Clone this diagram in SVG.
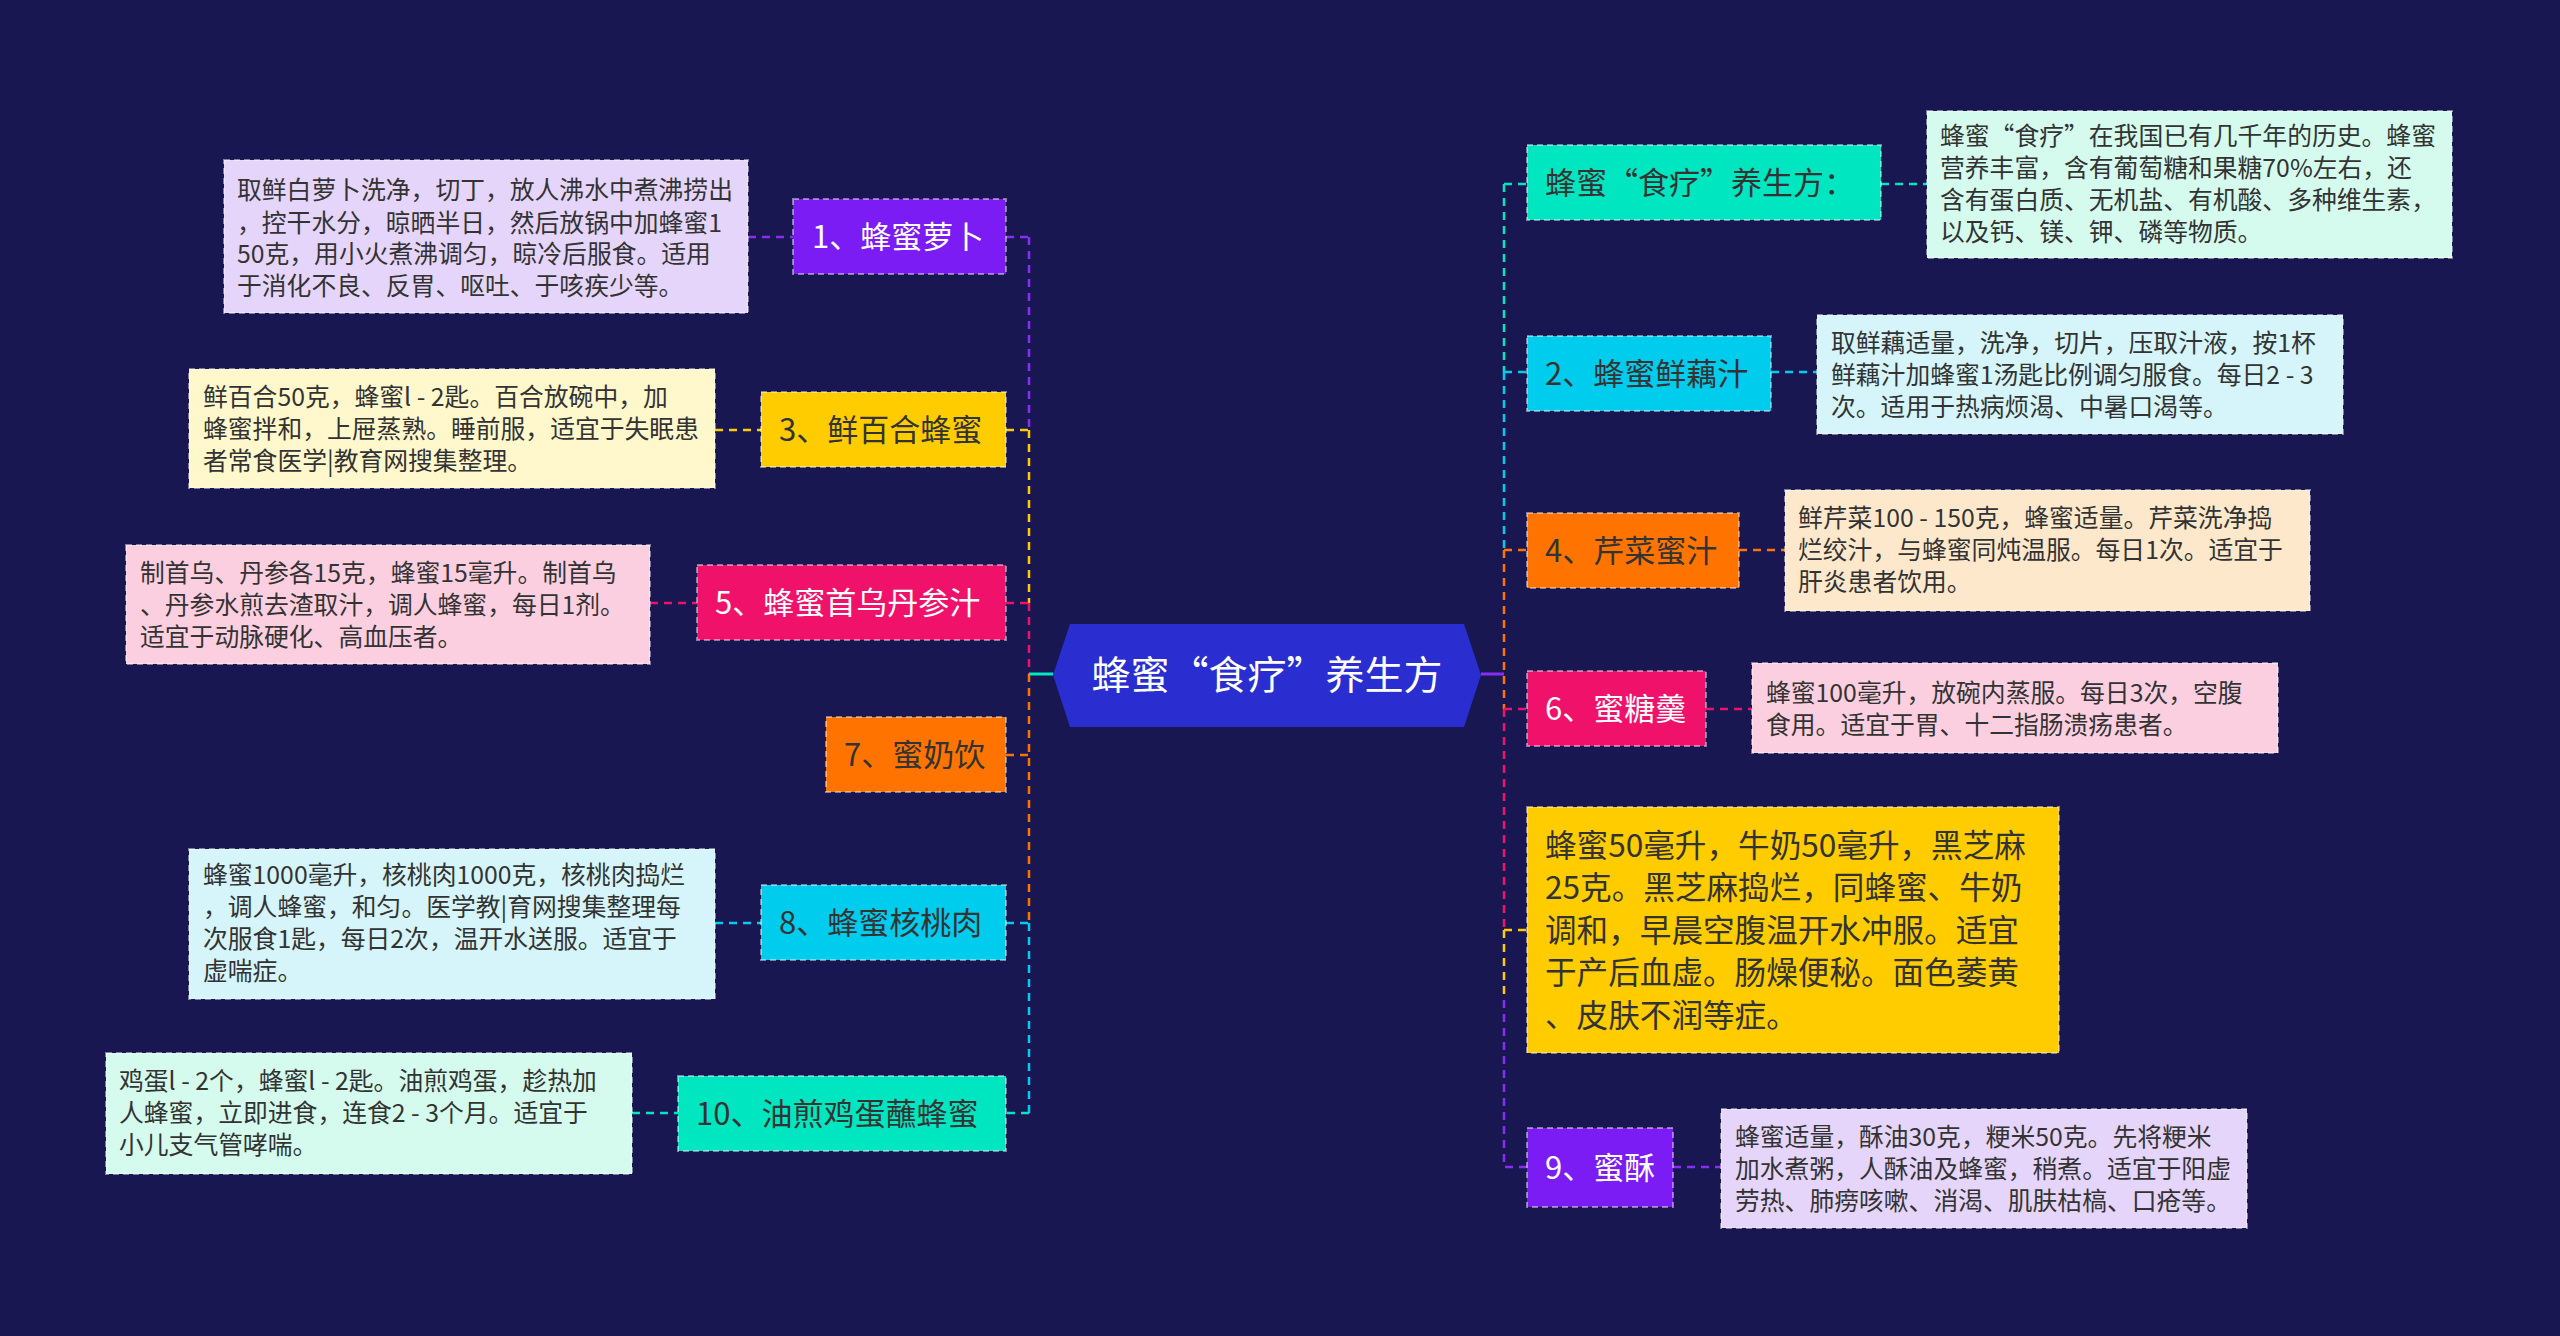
<svg xmlns="http://www.w3.org/2000/svg" width="2560" height="1336" viewBox="0 0 2560 1336">
<style>
text{font-family:"Noto Sans CJK SC","Liberation Sans",sans-serif}
.n{font-size:31px}
.d{font-size:24.8px;fill:#333}
.w{fill:#fff}.k{fill:#333}
.c{fill:none;stroke-width:2.5;stroke-dasharray:8 6}
.b{stroke:#fff;stroke-opacity:.45;stroke-width:2;stroke-dasharray:6 4}
</style>
<rect width="2560" height="1336" fill="#181752"/>
<g id="connectors">
<path class="c" stroke="#8a2cf5" d="M1029 237V430M1006 237H1029M748 237H793"/>
<path class="c" stroke="#ffcc00" d="M1029 430V603M1006 430H1029M715 430H761"/>
<path class="c" stroke="#f0116b" d="M1029 603V674M1006 603H1029M650 603H697"/>
<path class="c" stroke="#ff7300" d="M1029 674V923M1006 755H1029"/>
<path class="c" stroke="#00ccee" d="M1029 923V1113M1006 923H1029M715 923H761"/>
<path class="c" stroke="#00e6c0" d="M1029 1113H1006M632 1113H678"/>
<path stroke="#00e6c0" stroke-width="3" fill="none" d="M1053 674H1029"/>
<path stroke="#8a2cf5" stroke-width="3" fill="none" d="M1481 674H1504"/>
<path class="c" stroke="#00e6c0" d="M1504 184V372M1504 184H1527M1881 184H1927"/>
<path class="c" stroke="#00ccee" d="M1504 372V550M1504 372H1527M1771 372H1817"/>
<path class="c" stroke="#ff7300" d="M1504 550V709M1504 550H1527M1739 550H1785"/>
<path class="c" stroke="#f0116b" d="M1504 709V930M1504 709H1527M1706 709H1752"/>
<path class="c" stroke="#ffcc00" d="M1504 930V1000M1504 930H1527"/>
<path class="c" stroke="#8a2cf5" d="M1504 1000V1167H1527M1673 1167H1721"/>
</g>
<g id="center">
<path d="M1070 624H1464L1481 675L1464 727H1070L1053 675Z" fill="#2a2ed0"/>
<text x="1267" y="689" font-size="39" fill="#fff" text-anchor="middle">蜂蜜“食疗”养生方</text>
</g>
<g id="n1"><rect class="b" x="793" y="199" width="213" height="75" fill="#7b1cf5"/><text class="n w" x="812" y="248">1、蜂蜜萝卜</text></g>
<g id="d1"><rect class="b" x="224" y="160" width="524" height="153" fill="#e6d5fb"/>
<text class="d"><tspan x="237" y="199">取鲜白萝卜洗净，切丁，放人沸水中煮沸捞出</tspan><tspan x="237" y="232">，控干水分，晾晒半日，然后放锅中加蜂蜜1</tspan><tspan x="237" y="263">50克，用小火煮沸调匀，晾冷后服食。适用</tspan><tspan x="237" y="295">于消化不良、反胃、呕吐、于咳疾少等。</tspan></text></g>
<g id="n3"><rect class="b" x="761" y="392" width="245" height="75" fill="#ffcc00"/><text class="n k" x="779" y="441">3、鲜百合蜂蜜</text></g>
<g id="d3"><rect class="b" x="189" y="369" width="526" height="119" fill="#fff8cc"/>
<text class="d"><tspan x="203" y="406">鲜百合50克，蜂蜜l - 2匙。百合放碗中，加</tspan><tspan x="203" y="438">蜂蜜拌和，上屉蒸熟。睡前服，适宜于失眠患</tspan><tspan x="203" y="470">者常食医学|教育网搜集整理。</tspan></text></g>
<g id="n5"><rect class="b" x="697" y="565" width="309" height="75" fill="#f0116b"/><text class="n w" x="715" y="614">5、蜂蜜首乌丹参汁</text></g>
<g id="d5"><rect class="b" x="126" y="545" width="524" height="119" fill="#fccfe0"/>
<text class="d"><tspan x="140" y="582">制首乌、丹参各15克，蜂蜜15毫升。制首乌</tspan><tspan x="140" y="614">、丹参水煎去渣取汁，调人蜂蜜，每日1剂。</tspan><tspan x="140" y="646">适宜于动脉硬化、高血压者。</tspan></text></g>
<g id="n7"><rect class="b" x="826" y="717" width="180" height="75" fill="#ff7300"/><text class="n k" x="844" y="766">7、蜜奶饮</text></g>
<g id="n8"><rect class="b" x="761" y="885" width="245" height="75" fill="#00ccee"/><text class="n k" x="779" y="934">8、蜂蜜核桃肉</text></g>
<g id="d8"><rect class="b" x="189" y="849" width="526" height="150" fill="#d5f5fb"/>
<text class="d"><tspan x="203" y="884">蜂蜜1000毫升，核桃肉1000克，核桃肉捣烂</tspan><tspan x="203" y="916">，调人蜂蜜，和匀。医学教|育网搜集整理每</tspan><tspan x="203" y="948">次服食1匙，每日2次，温开水送服。适宜于</tspan><tspan x="203" y="980">虚喘症。</tspan></text></g>
<g id="n10"><rect class="b" x="678" y="1076" width="328" height="75" fill="#00e6c0"/><text class="n k" x="696" y="1125">10、油煎鸡蛋蘸蜂蜜</text></g>
<g id="d10"><rect class="b" x="106" y="1053" width="526" height="121" fill="#d5fbee"/>
<text class="d"><tspan x="119" y="1090">鸡蛋l - 2个，蜂蜜l - 2匙。油煎鸡蛋，趁热加</tspan><tspan x="119" y="1122">人蜂蜜，立即进食，连食2 - 3个月。适宜于</tspan><tspan x="119" y="1154">小儿支气管哮喘。</tspan></text></g>
<g id="r1"><rect class="b" x="1527" y="145" width="354" height="75" fill="#00e6c0"/><text class="n k" x="1545" y="194">蜂蜜“食疗”养生方：</text></g>
<g id="dr1"><rect class="b" x="1927" y="111" width="525" height="147" fill="#d5fbee"/>
<text class="d"><tspan x="1940" y="145">蜂蜜“食疗”在我国已有几千年的历史。蜂蜜</tspan><tspan x="1940" y="177">营养丰富，含有葡萄糖和果糖70%左右，还</tspan><tspan x="1940" y="209">含有蛋白质、无机盐、有机酸、多种维生素，</tspan><tspan x="1940" y="241">以及钙、镁、钾、磷等物质。</tspan></text></g>
<g id="r2"><rect class="b" x="1527" y="336" width="244" height="75" fill="#00ccee"/><text class="n k" x="1545" y="385">2、蜂蜜鲜藕汁</text></g>
<g id="dr2"><rect class="b" x="1817" y="315" width="526" height="119" fill="#d5f5fb"/>
<text class="d"><tspan x="1831" y="352">取鲜藕适量，洗净，切片，压取汁液，按1杯</tspan><tspan x="1831" y="384">鲜藕汁加蜂蜜1汤匙比例调匀服食。每日2 - 3</tspan><tspan x="1831" y="416">次。适用于热病烦渴、中暑口渴等。</tspan></text></g>
<g id="r4"><rect class="b" x="1527" y="513" width="212" height="75" fill="#ff7300"/><text class="n k" x="1545" y="562">4、芹菜蜜汁</text></g>
<g id="dr4"><rect class="b" x="1785" y="490" width="525" height="121" fill="#fde8cc"/>
<text class="d"><tspan x="1798" y="527">鲜芹菜100 - 150克，蜂蜜适量。芹菜洗净捣</tspan><tspan x="1798" y="559">烂绞汁，与蜂蜜同炖温服。每日1次。适宜于</tspan><tspan x="1798" y="591">肝炎患者饮用。</tspan></text></g>
<g id="r6"><rect class="b" x="1527" y="671" width="179" height="75" fill="#f0116b"/><text class="n w" x="1545" y="720">6、蜜糖羹</text></g>
<g id="dr6"><rect class="b" x="1752" y="663" width="526" height="90" fill="#fccfe0"/>
<text class="d"><tspan x="1766" y="702">蜂蜜100毫升，放碗内蒸服。每日3次，空腹</tspan><tspan x="1766" y="734">食用。适宜于胃、十二指肠溃疡患者。</tspan></text></g>
<g id="r7"><rect class="b" x="1527" y="807" width="532" height="246" fill="#ffcc00"/>
<text class="n k" style="font-size:31.6px"><tspan x="1545" y="857">蜂蜜50毫升，牛奶50毫升，黑芝麻</tspan><tspan x="1545" y="899">25克。黑芝麻捣烂，同蜂蜜、牛奶</tspan><tspan x="1545" y="942">调和，早晨空腹温开水冲服。适宜</tspan><tspan x="1545" y="984">于产后血虚。肠燥便秘。面色萎黄</tspan><tspan x="1545" y="1027">、皮肤不润等症。</tspan></text></g>
<g id="r9"><rect class="b" x="1527" y="1128" width="146" height="79" fill="#7b1cf5"/><text class="n w" x="1545" y="1179">9、蜜酥</text></g>
<g id="dr9"><rect class="b" x="1721" y="1109" width="526" height="119" fill="#e6d5fb"/>
<text class="d"><tspan x="1735" y="1146">蜂蜜适量，酥油30克，粳米50克。先将粳米</tspan><tspan x="1735" y="1178">加水煮粥，人酥油及蜂蜜，稍煮。适宜于阳虚</tspan><tspan x="1735" y="1210">劳热、肺痨咳嗽、消渴、肌肤枯槁、口疮等。</tspan></text></g>
</svg>
